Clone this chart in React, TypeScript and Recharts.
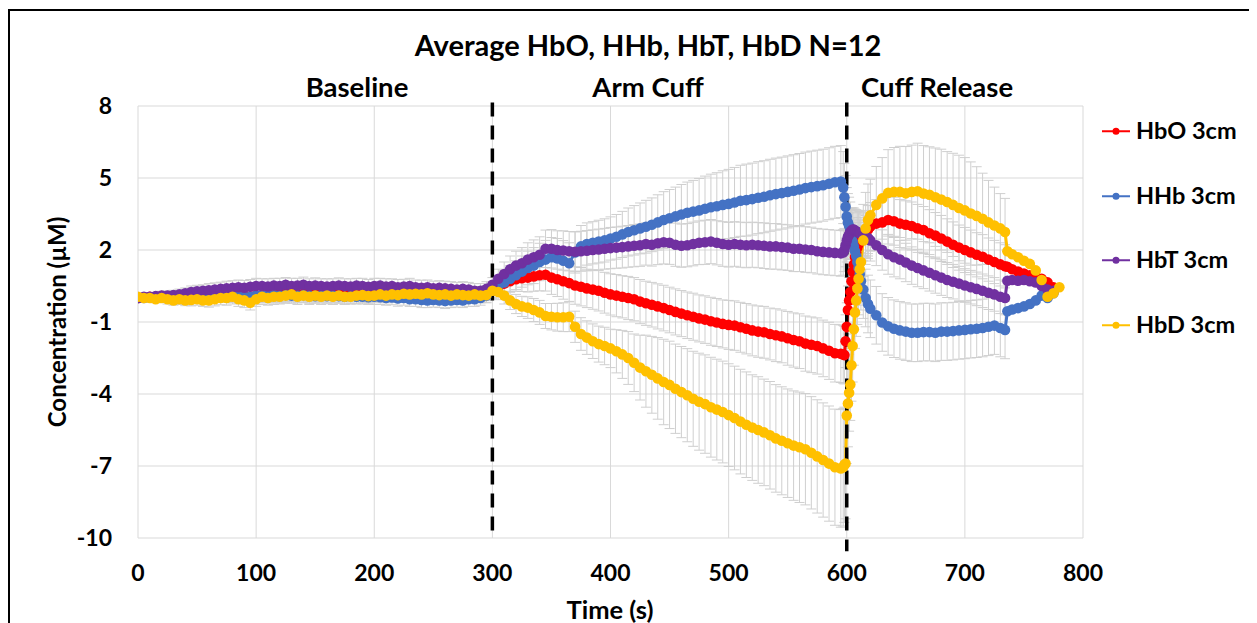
import React from 'react';
import { LineChart, Line, XAxis, YAxis, CartesianGrid, ReferenceLine, ErrorBar } from 'recharts';

const times = [
  0, 5, 10, 15, 20, 25, 30, 35, 40, 45,
  50, 55, 60, 65, 70, 75, 80, 85, 90, 95,
  100, 105, 110, 115, 120, 125, 130, 135, 140, 145,
  150, 155, 160, 165, 170, 175, 180, 185, 190, 195,
  200, 205, 210, 215, 220, 225, 230, 235, 240, 245,
  250, 255, 260, 265, 270, 275, 280, 285, 290, 295,
  300, 305, 310, 315, 320, 325, 330, 335, 340, 345,
  350, 355, 360, 365, 370, 375, 380, 385, 390, 395,
  400, 405, 410, 415, 420, 425, 430, 435, 440, 445,
  450, 455, 460, 465, 470, 475, 480, 485, 490, 495,
  500, 505, 510, 515, 520, 525, 530, 535, 540, 545,
  550, 555, 560, 565, 570, 575, 580, 585, 590, 595,
  597, 598, 599, 600, 601, 602, 603, 604, 605, 606,
  607, 608, 609, 610, 611, 612, 614, 616, 618, 620,
  625, 630, 635, 640, 645, 650, 655, 660, 665, 670,
  675, 680, 685, 690, 695, 700, 705, 710, 715, 720,
  725, 730, 734, 736, 740, 745, 750, 755, 760, 765,
  770, 775, 780,
];

const hbo = [
  0, 0.03, 0.05, 0.05, 0.08, 0.06, 0.05, 0.08, 0.1, 0.1,
  0.1, 0.12, 0.1, 0.12, 0.12, 0.1, 0.12, 0.1, 0.08, 0.05,
  0.1, 0.12, 0.12, 0.15, 0.15, 0.18, 0.2, 0.15, 0.18, 0.15,
  0.18, 0.15, 0.18, 0.15, 0.18, 0.15, 0.15, 0.18, 0.2, 0.15,
  0.18, 0.2, 0.18, 0.2, 0.18, 0.2, 0.18, 0.2, 0.18, 0.22,
  0.2, 0.18, 0.2, 0.15, 0.18, 0.18, 0.15, 0.18, 0.15, 0.2,
  0.3, 0.45, 0.6, 0.7, 0.78, 0.82, 0.85, 0.9, 0.95, 0.97,
  0.85, 0.78, 0.7, 0.62, 0.52, 0.47, 0.4, 0.35, 0.3, 0.22,
  0.15, 0.1, 0.05, 0.0, -0.05, -0.15, -0.22, -0.28, -0.35, -0.42,
  -0.5, -0.58, -0.65, -0.72, -0.78, -0.85, -0.9, -0.97, -1.02, -1.08,
  -1.12, -1.15, -1.22, -1.28, -1.35, -1.4, -1.43, -1.5, -1.55, -1.6,
  -1.68, -1.75, -1.8, -1.9, -1.95, -2.0, -2.1, -2.2, -2.3, -2.32,
  -2.35, -2.38, -1.8, -1.2, -0.5, -0.1, 0.25, 0.7, 1.1, 1.4,
  1.7, 1.9, 2.1, 2.25, 2.35, 2.45, 2.6, 2.7, 2.85, 2.98,
  3.1, 3.15, 3.25, 3.2, 3.1, 3.05, 3.0, 2.9, 2.83, 2.7,
  2.6, 2.48, 2.35, 2.22, 2.1, 2.0, 1.9, 1.8, 1.72, 1.6,
  1.5, 1.4, 1.32, 1.3, 1.2, 1.1, 1.02, 0.95, 0.9, 0.8,
  0.65, 0.45, null,
];

const hhb = [
  0, 0.0, 0.02, 0.0, 0.03, 0.05, 0.03, 0.05, 0.08, 0.05,
  0.08, 0.1, 0.08, 0.1, 0.1, 0.12, 0.1, 0.08, 0.05, 0.05,
  0.1, 0.12, 0.1, 0.12, 0.1, 0.12, 0.1, 0.1, 0.12, 0.1,
  0.08, 0.1, 0.08, 0.1, 0.08, 0.05, 0.08, 0.05, 0.05, 0.03,
  0.05, 0.03, 0.0, 0.02, -0.02, 0.0, -0.05, -0.05, -0.08, -0.1,
  -0.08, -0.1, -0.12, -0.1, -0.08, -0.1, -0.05, -0.05, 0.0, 0.1,
  0.3, 0.5, 0.65, 0.8, 0.95, 1.1, 1.25, 1.35, 1.5, 1.6,
  1.7, 1.65, 1.55, 1.45, 1.9, 2.15, 2.25, 2.3, 2.35, 2.4,
  2.48, 2.55, 2.65, 2.75, 2.82, 2.9, 2.97, 3.05, 3.15, 3.25,
  3.32, 3.4, 3.48, 3.55, 3.6, 3.65, 3.72, 3.78, 3.82, 3.88,
  3.92, 3.98, 4.05, 4.08, 4.12, 4.18, 4.22, 4.28, 4.33, 4.37,
  4.42, 4.47, 4.52, 4.58, 4.62, 4.66, 4.7, 4.76, 4.82, 4.85,
  4.6, 4.2, 3.8, 3.4, 3.15, 3.0, 2.8, 2.56, 2.35, 2.15,
  1.95, 1.75, 1.5, 1.25, 1.0, 0.7, 0.35, 0.0, -0.25, -0.45,
  -0.72, -1.02, -1.18, -1.28, -1.35, -1.4, -1.45, -1.45, -1.42, -1.42,
  -1.45, -1.4, -1.4, -1.38, -1.35, -1.33, -1.3, -1.28, -1.25, -1.2,
  -1.15, -1.25, -1.33, -0.55, -0.48, -0.42, -0.35, -0.25, -0.1, 0.1,
  0.0, 0.2, null,
];

const hbt = [
  0, 0.05, 0.05, 0.08, 0.1, 0.1, 0.12, 0.15, 0.2, 0.25,
  0.28, 0.3, 0.32, 0.35, 0.38, 0.4, 0.42, 0.45, 0.43, 0.47,
  0.5, 0.5, 0.48, 0.52, 0.5, 0.55, 0.5, 0.52, 0.55, 0.5,
  0.52, 0.5, 0.48, 0.5, 0.52, 0.5, 0.48, 0.52, 0.5, 0.47,
  0.5, 0.52, 0.48, 0.5, 0.45, 0.48, 0.5, 0.45, 0.42, 0.45,
  0.4, 0.42, 0.4, 0.38, 0.35, 0.38, 0.35, 0.3, 0.3, 0.38,
  0.55, 0.8, 1.0, 1.2, 1.35, 1.45, 1.6, 1.7, 1.8, 2.05,
  2.05, 2.0, 1.98, 1.95, 1.93, 1.95, 1.97, 2.0, 2.02, 2.05,
  2.08, 2.1, 2.12, 2.15, 2.18, 2.2, 2.25, 2.22, 2.28, 2.32,
  2.3, 2.22, 2.18, 2.2, 2.25, 2.3, 2.32, 2.35, 2.3, 2.25,
  2.22, 2.25, 2.22, 2.2, 2.22, 2.2, 2.18, 2.15, 2.15, 2.12,
  2.1, 2.05, 2.05, 2.02, 2.0, 1.95, 1.92, 1.9, 1.88, 1.86,
  1.9, 2.0, 2.2, 2.4, 2.55, 2.65, 2.75, 2.8, 2.85, 2.85,
  2.8, 2.78, 2.75, 2.72, 2.7, 2.68, 2.62, 2.56, 2.5, 2.4,
  2.2, 2.0, 1.82, 1.7, 1.6, 1.48, 1.35, 1.25, 1.15, 1.05,
  0.95, 0.85, 0.75, 0.68, 0.6, 0.52, 0.45, 0.38, 0.3, 0.22,
  0.15, 0.05, 0.0, 0.72, 0.75, 0.72, 0.75, 0.7, 0.65, 0.5,
  0.35, 0.3, null,
];

const hbd = [
  0.05, 0.0, 0.0, -0.05, 0.0, -0.05, -0.1, -0.05, -0.1, -0.08,
  -0.05, -0.1, -0.1, -0.05, 0.0, 0.0, 0.05, -0.05, -0.1, -0.2,
  -0.05, 0.05, 0.0, 0.05, 0.05, 0.1, 0.15, 0.05, 0.1, 0.05,
  0.1, 0.05, 0.1, 0.05, 0.1, 0.05, 0.05, 0.1, 0.12, 0.08,
  0.1, 0.15, 0.1, 0.15, 0.12, 0.18, 0.15, 0.18, 0.15, 0.2,
  0.15, 0.12, 0.15, 0.1, 0.15, 0.12, 0.1, 0.15, 0.1, 0.12,
  0.3, 0.25, 0.1, -0.1, -0.25, -0.35, -0.4, -0.5, -0.6, -0.75,
  -0.78, -0.8, -0.8, -0.78, -1.2, -1.5, -1.65, -1.8, -1.92, -2.0,
  -2.1, -2.22, -2.35, -2.5, -2.7, -2.9, -3.05, -3.2, -3.35, -3.5,
  -3.62, -3.78, -3.92, -4.05, -4.2, -4.32, -4.42, -4.55, -4.65, -4.75,
  -4.88, -5.0, -5.15, -5.28, -5.4, -5.5, -5.6, -5.72, -5.85, -5.95,
  -6.05, -6.15, -6.22, -6.3, -6.45, -6.6, -6.75, -6.9, -7.05, -7.1,
  -7.05, -6.95, -6.9, -4.9, -4.4, -3.95, -3.6, -2.8, -2.0, -1.3,
  -0.6, -0.1, 0.4, 0.8, 1.2, 1.5, 2.4, 2.9, 3.25, 3.45,
  3.88, 4.15, 4.38, 4.42, 4.42, 4.36, 4.42, 4.45, 4.35, 4.3,
  4.2, 4.1, 4.0, 3.88, 3.75, 3.65, 3.52, 3.42, 3.3, 3.15,
  3.02, 2.9, 2.75, 1.95, 1.82, 1.7, 1.55, 1.42, 1.15, 0.75,
  0.05, 0.2, 0.45,
];

const hboErr = [
  null, 0.1, 0.15, 0.15, 0.18, 0.2, 0.2, 0.2, 0.22, 0.22,
  0.22, 0.25, 0.25, 0.25, 0.25, 0.28, 0.28, 0.28, 0.28, 0.3,
  0.3, 0.3, 0.32, 0.3, 0.3, 0.32, 0.3, 0.32, 0.3, 0.3,
  0.32, 0.3, 0.3, 0.32, 0.3, 0.3, 0.32, 0.3, 0.3, 0.32,
  0.3, 0.32, 0.3, 0.3, 0.32, 0.3, 0.3, 0.32, 0.3, 0.3,
  0.32, 0.3, 0.3, 0.32, 0.3, 0.3, 0.3, 0.3, 0.3, 0.3,
  0.3, 0.35, 0.4, 0.45, 0.5, 0.55, 0.6, 0.62, 0.65, 0.68,
  0.7, 0.72, 0.75, 0.76, 0.78, 0.8, 0.8, 0.82, 0.84, 0.85,
  0.86, 0.88, 0.88, 0.9, 0.9, 0.92, 0.92, 0.93, 0.94, 0.95,
  0.95, 0.96, 0.96, 0.97, 0.98, 0.98, 0.99, 1.0, 1.0, 1.0,
  1.02, 1.03, 1.04, 1.05, 1.06, 1.07, 1.08, 1.08, 1.1, 1.1,
  1.12, 1.13, 1.14, 1.15, 1.16, 1.17, 1.18, 1.19, 1.2, 1.2,
  1.2, 1.2, 1.1, 1.0, 1.0, 0.95, 0.95, 0.9, 0.9, 0.9,
  0.9, 0.9, 0.9, 0.9, 0.9, 0.9, 0.95, 0.95, 1.0, 1.0,
  1.0, 1.0, 1.0, 1.0, 1.0, 1.0, 1.0, 1.0, 0.98, 0.98,
  0.96, 0.96, 0.95, 0.95, 0.94, 0.94, 0.93, 0.92, 0.92, 0.9,
  0.9, 0.9, 0.9, null, null, null, null, null, null, null,
  null, null, null,
];

const hhbErr = [
  null, 0.1, 0.15, 0.15, 0.18, 0.2, 0.2, 0.22, 0.22, 0.22,
  0.25, 0.25, 0.25, 0.28, 0.28, 0.28, 0.28, 0.3, 0.3, 0.3,
  0.3, 0.3, 0.3, 0.32, 0.3, 0.3, 0.32, 0.3, 0.3, 0.32,
  0.3, 0.3, 0.32, 0.3, 0.3, 0.3, 0.32, 0.3, 0.3, 0.3,
  0.32, 0.3, 0.3, 0.3, 0.32, 0.3, 0.3, 0.3, 0.32, 0.3,
  0.3, 0.3, 0.32, 0.3, 0.3, 0.3, 0.3, 0.3, 0.3, 0.3,
  0.3, 0.4, 0.5, 0.55, 0.6, 0.65, 0.7, 0.75, 0.78, 0.8,
  0.82, 0.83, 0.84, 0.85, 0.86, 0.87, 0.88, 0.88, 0.89, 0.9,
  0.9, 0.93, 0.96, 1.0, 1.03, 1.06, 1.1, 1.12, 1.15, 1.18,
  1.2, 1.22, 1.25, 1.28, 1.3, 1.33, 1.36, 1.38, 1.4, 1.42,
  1.44, 1.46, 1.48, 1.5, 1.5, 1.5, 1.5, 1.5, 1.5, 1.5,
  1.5, 1.5, 1.5, 1.5, 1.5, 1.5, 1.5, 1.5, 1.5, 1.5,
  1.5, 1.4, 1.3, 1.2, 1.2, 1.2, 1.2, 1.2, 1.2, 1.2,
  1.2, 1.2, 1.2, 1.2, 1.2, 1.2, 1.2, 1.2, 1.2, 1.2,
  1.2, 1.2, 1.2, 1.2, 1.2, 1.2, 1.2, 1.2, 1.2, 1.2,
  1.2, 1.2, 1.2, 1.2, 1.2, 1.2, 1.2, 1.2, 1.2, 1.2,
  1.2, 1.2, 1.2, null, null, null, null, null, null, null,
  null, null, null,
];

const hbtErr = [
  null, 0.1, 0.15, 0.15, 0.18, 0.2, 0.2, 0.22, 0.22, 0.25,
  0.25, 0.25, 0.28, 0.28, 0.28, 0.3, 0.3, 0.3, 0.3, 0.3,
  0.32, 0.3, 0.32, 0.3, 0.32, 0.3, 0.32, 0.3, 0.32, 0.3,
  0.32, 0.3, 0.32, 0.3, 0.32, 0.3, 0.32, 0.3, 0.32, 0.3,
  0.32, 0.3, 0.32, 0.3, 0.32, 0.3, 0.32, 0.3, 0.32, 0.3,
  0.3, 0.3, 0.3, 0.3, 0.3, 0.3, 0.3, 0.3, 0.3, 0.3,
  0.3, 0.4, 0.5, 0.55, 0.6, 0.65, 0.7, 0.72, 0.75, 0.78,
  0.8, 0.8, 0.82, 0.82, 0.83, 0.83, 0.84, 0.84, 0.85, 0.85,
  0.86, 0.86, 0.87, 0.87, 0.88, 0.88, 0.88, 0.89, 0.89, 0.9,
  0.9, 0.9, 0.9, 0.9, 0.91, 0.91, 0.92, 0.92, 0.92, 0.93,
  0.93, 0.93, 0.94, 0.94, 0.94, 0.94, 0.95, 0.95, 0.95, 0.95,
  0.95, 0.95, 0.95, 0.95, 0.95, 0.95, 0.95, 0.95, 0.95, 0.95,
  0.95, 0.9, 0.9, 0.9, 0.9, 0.9, 0.9, 0.9, 0.9, 0.9,
  0.9, 0.9, 0.9, 0.9, 0.9, 0.9, 0.88, 0.88, 0.86, 0.86,
  0.85, 0.84, 0.83, 0.82, 0.8, 0.8, 0.78, 0.78, 0.76, 0.76,
  0.75, 0.74, 0.73, 0.72, 0.72, 0.7, 0.7, 0.7, 0.7, 0.7,
  0.7, 0.7, 0.7, null, null, null, null, null, null, null,
  null, null, null,
];

const hbdErr = [
  null, 0.1, 0.15, 0.15, 0.18, 0.2, 0.2, 0.22, 0.22, 0.25,
  0.25, 0.25, 0.28, 0.28, 0.28, 0.3, 0.3, 0.3, 0.3, 0.3,
  0.3, 0.32, 0.3, 0.32, 0.3, 0.32, 0.3, 0.32, 0.3, 0.32,
  0.3, 0.32, 0.3, 0.32, 0.3, 0.32, 0.3, 0.32, 0.3, 0.32,
  0.3, 0.32, 0.3, 0.32, 0.3, 0.32, 0.3, 0.32, 0.3, 0.32,
  0.3, 0.3, 0.3, 0.3, 0.3, 0.3, 0.3, 0.3, 0.3, 0.3,
  0.3, 0.32, 0.35, 0.38, 0.4, 0.42, 0.45, 0.48, 0.5, 0.52,
  0.55, 0.58, 0.6, 0.62, 0.65, 0.68, 0.7, 0.72, 0.75, 0.78,
  0.8, 0.9, 1.0, 1.1, 1.2, 1.35, 1.5, 1.6, 1.7, 1.78,
  1.82, 1.86, 1.9, 1.94, 1.98, 2.02, 2.05, 2.08, 2.1, 2.12,
  2.14, 2.16, 2.18, 2.2, 2.2, 2.22, 2.22, 2.24, 2.24, 2.25,
  2.26, 2.28, 2.3, 2.32, 2.34, 2.36, 2.38, 2.4, 2.42, 2.45,
  2.45, 2.4, 2.3, 2.0, 1.8, 1.6, 1.5, 1.5, 1.5, 1.5,
  1.5, 1.5, 1.5, 1.5, 1.5, 1.5, 1.5, 1.5, 1.5, 1.5,
  1.6, 1.7, 1.8, 1.85, 1.9, 1.95, 1.95, 2.0, 2.0, 2.0,
  2.05, 2.1, 2.1, 2.15, 2.2, 2.2, 2.15, 2.05, 1.9, 1.75,
  1.6, 1.45, 1.4, null, null, null, null, null, null, null,
  null, null, null,
];

const seriesKeys = ['hbo', 'hhb', 'hbt', 'hbd'];
const seriesNames = ['HbO 3cm', 'HHb 3cm', 'HbT 3cm', 'HbD 3cm'];
const seriesColors = ['#FF0000', '#4472C4', '#7030A0', '#FFC000'];
const xTicks = [0, 100, 200, 300, 400, 500, 600, 700, 800];
const yTicks = [-10, -7, -4, -1, 2, 5, 8];
const phaseBoundaries = [300, 600];
const phaseLabels = ['Baseline', 'Arm Cuff', 'Cuff Release'];
const chartTitle = 'Average HbO, HHb, HbT, HbD N=12';

const data = times.map((t, i) => ({
  t,
  hbo: hbo[i],
  hhb: hhb[i],
  hbt: hbt[i],
  hbd: hbd[i],
  hboErr: hboErr[i],
  hhbErr: hhbErr[i],
  hbtErr: hbtErr[i],
  hbdErr: hbdErr[i],
}));

const FONT = 'Lato, "DejaVu Sans", sans-serif';
const tickStyle = { fontSize: 23, fontWeight: 700, fill: '#000', fontFamily: FONT };

const phaseLabelPos = [
  { x: 349, y: 79 },
  { x: 640, y: 79 },
  { x: 929, y: 79 },
];
const legendTops = [123, 188, 252, 317];

const MarkerDot = (props: any) => {
  const { cx, cy, fill, index } = props;
  if (cx == null || cy == null || !Number.isFinite(cx) || !Number.isFinite(cy)) return <g key={'d' + index} />;
  return <circle key={'d' + index} cx={cx} cy={cy} r={5.3} fill={fill} />;
};

export default function App() {
  return (
    <div style={{ position: 'relative', width: 1249, height: 615, background: '#fff', fontFamily: FONT, overflow: 'hidden' }}>
      <div style={{ position: 'absolute', left: 0, top: 0 }}>
        <LineChart
          width={1249}
          height={615}
          data={data}
          margin={{ top: 98, right: 174, left: 70, bottom: 45 }}
        >
          <CartesianGrid stroke="#d9d9d9" strokeWidth={1} />
          <XAxis
            dataKey="t"
            type="number"
            domain={[0, 800]}
            ticks={xTicks}
            allowDataOverflow
            axisLine={false}
            tickLine={false}
            tickMargin={21}
            height={40}
            tick={tickStyle}
            interval={0}
          />
          <YAxis
            type="number"
            domain={[-10, 8]}
            ticks={yTicks}
            allowDataOverflow
            axisLine={false}
            tickLine={false}
            tickMargin={20}
            width={60}
            tick={tickStyle}
            interval={0}
          />
          {seriesKeys.map((k) => (
            <Line
              key={'err-' + k}
              dataKey={k}
              stroke="none"
              dot={false}
              activeDot={false}
              legendType="none"
              isAnimationActive={false}
            >
              <ErrorBar dataKey={k + 'Err'} width={5} stroke="#cfcfcf" strokeWidth={1} direction="y" isAnimationActive={false} />
            </Line>
          ))}
          {seriesKeys.map((k, i) => (
            <Line
              key={k}
              dataKey={k}
              name={seriesNames[i]}
              stroke={seriesColors[i]}
              strokeWidth={3}
              fill={seriesColors[i]}
              dot={<MarkerDot fill={seriesColors[i]} />}
              activeDot={false}
              isAnimationActive={false}
            />
          ))}
          {phaseBoundaries.map((b, i) => (
            <ReferenceLine
              key={'pb' + b}
              segment={[{ x: b, y: 8.15 }, { x: b, y: i === 1 ? -10.55 : -10 }]}
              stroke="#000"
              strokeWidth={3.5}
              strokeDasharray="14 9"
              ifOverflow="visible"
            />
          ))}
        </LineChart>
      </div>

      <div style={{ position: 'absolute', left: 0, top: 1, width: 1249, height: 2, background: '#000' }} />
      <div style={{ position: 'absolute', left: 0, top: 1, width: 2, height: 614, background: '#000' }} />

      <div style={{ position: 'absolute', left: 640, top: 36, transform: 'translate(-50%, -50%)', fontSize: 29, fontWeight: 700, whiteSpace: 'nowrap', lineHeight: 1 }}>
        {chartTitle}
      </div>
      {phaseLabels.map((p, i) => (
        <div key={p} style={{ position: 'absolute', left: phaseLabelPos[i].x, top: phaseLabelPos[i].y, transform: 'translate(-50%, -50%)', fontSize: 27.5, fontWeight: 700, whiteSpace: 'nowrap', lineHeight: 1 }}>
          {p}
        </div>
      ))}
      <div style={{ position: 'absolute', left: 602, top: 602, transform: 'translate(-50%, -50%)', fontSize: 25.5, fontWeight: 700, whiteSpace: 'nowrap', lineHeight: 1 }}>
        Time (s)
      </div>
      <div style={{ position: 'absolute', left: 49, top: 314, transform: 'translate(-50%, -50%) rotate(-90deg)', fontSize: 24, fontWeight: 700, whiteSpace: 'nowrap', lineHeight: 1 }}>
        Concentration (µM)
      </div>

      {seriesNames.map((n, i) => (
        <div key={n} style={{ position: 'absolute', left: 1094, top: legendTops[i], transform: 'translateY(-50%)', display: 'flex', alignItems: 'center', whiteSpace: 'nowrap' }}>
          <svg width={28} height={10} style={{ display: 'block' }}>
            <line x1={0} y1={5} x2={28} y2={5} stroke={seriesColors[i]} strokeWidth={2} />
            <circle cx={14} cy={5} r={3.5} fill={seriesColors[i]} />
          </svg>
          <span style={{ marginLeft: 6, fontSize: 23.5, fontWeight: 700, lineHeight: 1 }}>{n}</span>
        </div>
      ))}
    </div>
  );
}
